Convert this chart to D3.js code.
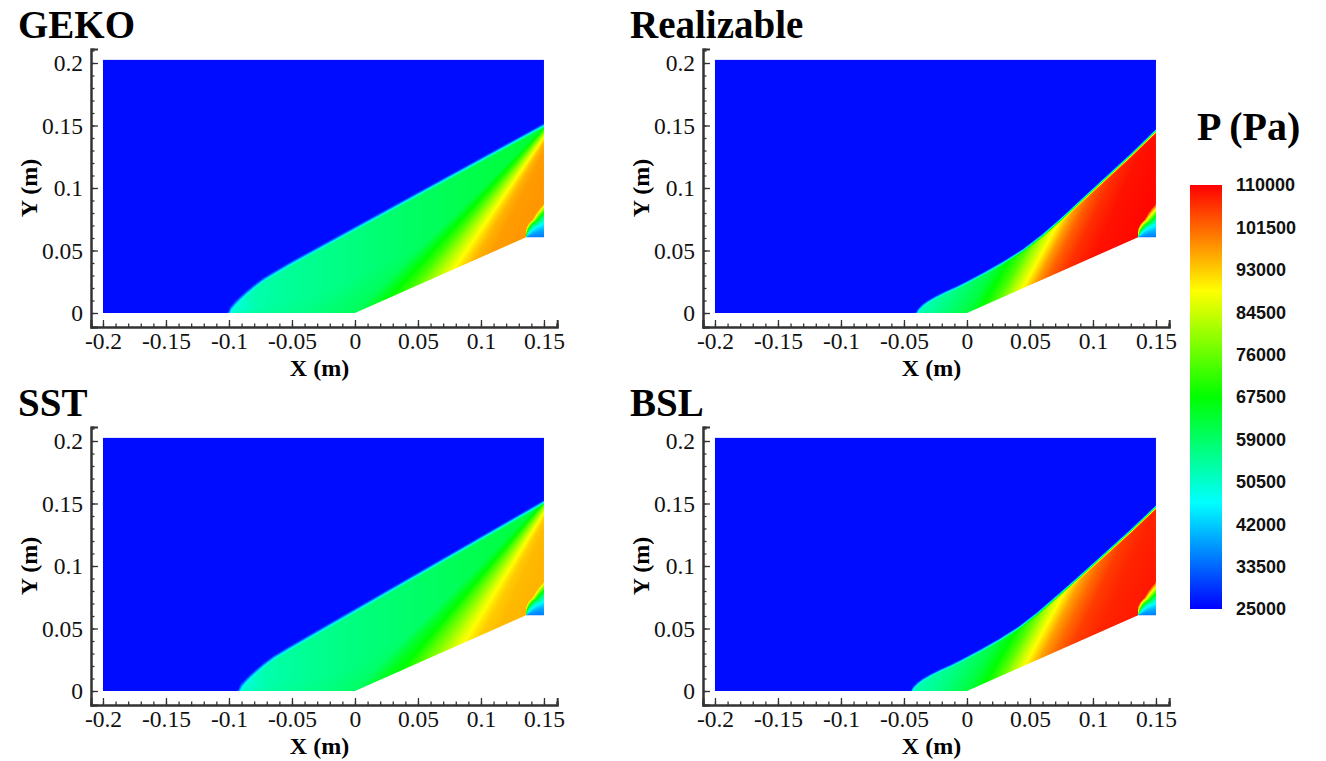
<!DOCTYPE html>
<html><head><meta charset="utf-8">
<script src="https://cdn.jsdelivr.net/npm/d3@7"></script>
<style>body{margin:0;background:#fff} svg{display:block}</style>
</head><body>
<svg id="chart" width="1326" height="761"></svg>
<script>
// ---------------- data ----------------
const modelNames = ["GEKO", "Realizable", "SST", "BSL"];
const xTicks = [-0.2, -0.15, -0.1, -0.05, 0, 0.05, 0.1, 0.15];
const yTicks = [0, 0.05, 0.1, 0.15, 0.2];
const xMinorTicks = d3.range(-20, 17).map(d => d / 100);
const yMinorTicks = d3.range(0, 22).map(d => d / 100);
const legendTicks = [110000, 101500, 93000, 84500, 76000, 67500, 59000, 50500, 42000, 33500, 25000];
const colorStops = ["#0000ff", "#00ffff", "#00ff00", "#ffff00", "#ff0000"];
const pRange = [25000, 110000];
const freestreamP = 26000;

// geometry of the ramp (m)
const wallX = [-0.2, 0, 0.1358, 0.15];
const wallY = [0, 0, 0.0606, 0.0606];
const domainTop = 0.2025;

// shock traces (m)
const gekoShockX = [-0.100, -0.098, -0.095, -0.091, -0.086, -0.080, -0.072, -0.062, -0.050, 0.150];
const gekoShockY = [0, 0.004, 0.0075, 0.0115, 0.016, 0.021, 0.027, 0.033, 0.040, 0.150];
const realShockX = [-0.040, -0.038, -0.035, -0.031, -0.025, -0.017, -0.008, 0, 0.015, 0.03, 0.045, 0.06, 0.075, 0.09, 0.11, 0.13, 0.15];
const realShockY = [0, 0.003, 0.006, 0.009, 0.0125, 0.0165, 0.0205, 0.0245, 0.0325, 0.041, 0.0505, 0.062, 0.075, 0.089, 0.1075, 0.126, 0.1455];
const sstShockX = [-0.092, -0.090, -0.087, -0.083, -0.078, -0.072, -0.064, -0.054, -0.042, 0.150];
const sstShockY = [0, 0.004, 0.0075, 0.0115, 0.016, 0.021, 0.027, 0.033, 0.040, 0.151];
const bslShockX = [-0.044, -0.042, -0.039, -0.035, -0.029, -0.021, -0.012, -0.004, 0.011, 0.026, 0.041, 0.056, 0.071, 0.087, 0.108, 0.129, 0.15];
const bslShockY = [0, 0.003, 0.006, 0.009, 0.0125, 0.0165, 0.0205, 0.0245, 0.0325, 0.041, 0.0505, 0.062, 0.075, 0.089, 0.108, 0.127, 0.147];

// pressure read along the wall (wall x, Pa), carried along compression waves
const gekoWallX = [-0.1, -0.08, -0.04, 0, 0.015, 0.028, 0.045, 0.06, 0.075, 0.085, 0.095, 0.11, 0.136];
const gekoWallP = [50000, 54000, 56500, 60000, 64000, 67500, 73000, 80000, 87000, 91500, 95000, 97000, 97500];
const realWallX = [-0.04, -0.02, 0, 0.012, 0.025, 0.035, 0.045, 0.055, 0.065, 0.08, 0.1, 0.136];
const realWallP = [52000, 57000, 62000, 67500, 74000, 82000, 89000, 97000, 102000, 106000, 108500, 109500];
const sstWallX = [-0.092, -0.07, -0.03, 0, 0.02, 0.035, 0.05, 0.065, 0.08, 0.09, 0.1, 0.115, 0.136];
const sstWallP = [50000, 54000, 56500, 59000, 64000, 67000, 73000, 79000, 86000, 90000, 93000, 94500, 95000];
const bslWallX = [-0.044, -0.02, 0, 0.015, 0.028, 0.038, 0.048, 0.058, 0.07, 0.085, 0.105, 0.136];
const bslWallP = [52000, 57000, 62000, 67500, 75000, 83000, 90000, 96500, 101000, 105000, 107000, 108000];

// level just behind the shock (x, Pa)
const gekoBehindX = [-0.1, -0.08, -0.05, 0, 0.05, 0.1, 0.15];
const gekoBehindP = [48000, 53000, 55000, 57000, 59500, 61500, 63500];
const realBehindX = [-0.04, 0, 0.15];
const realBehindP = [50000, 58000, 60000];
const sstBehindX = [-0.092, -0.072, -0.042, 0, 0.05, 0.1, 0.15];
const sstBehindP = [48000, 53000, 55000, 57000, 59000, 61000, 63000];
const bslBehindX = [-0.044, 0, 0.15];
const bslBehindP = [50000, 58000, 60000];

// convergence point of the compression waves (m)
const gekoFocus = [0.17, 0.17];
const realFocus = [0.30, 0.50];
const sstFocus = [0.17, 0.175];
const bslFocus = [0.30, 0.50];

// expansion fan at the ramp shoulder (angle in degrees, Pa)
const gekoFanAngle = [0, 20, 35, 48, 56, 62];
const gekoFanP = [35000, 39000, 46000, 60000, 78000, 96000];
const realFanAngle = [0, 20, 35, 45, 55, 62];
const realFanP = [35000, 40000, 48000, 62000, 85000, 105000];
const sstFanAngle = [0, 20, 35, 48, 56, 62];
const sstFanP = [35000, 39000, 46000, 60000, 77000, 93000];
const bslFanAngle = [0, 20, 35, 45, 55, 62];
const bslFanP = [35000, 40000, 48000, 62000, 85000, 104000];
// widening of the fan close to the shoulder (radius m, angle factor)
const fanRadius = [0, 0.006, 0.015, 0.03];
const fanSpread = [1.6, 1.45, 1.12, 1.0];

const shockWidths = [0.0022, 0.0016, 0.0022, 0.0016];

// ---------------- layout ----------------
const svg = d3.select("#chart");
const serif = "'Liberation Serif','Times New Roman',Times,serif";
const sans = "'Liberation Sans',Arial,Helvetica,sans-serif";

const models = [
  {name: modelNames[0], sx: gekoShockX, sy: gekoShockY, wx: gekoWallX, wp: gekoWallP, bx: gekoBehindX, bp: gekoBehindP, f: gekoFocus, fa: gekoFanAngle, fp: gekoFanP, w: shockWidths[0], ox: 0, oy: 0},
  {name: modelNames[1], sx: realShockX, sy: realShockY, wx: realWallX, wp: realWallP, bx: realBehindX, bp: realBehindP, f: realFocus, fa: realFanAngle, fp: realFanP, w: shockWidths[1], ox: 612, oy: 0},
  {name: modelNames[2], sx: sstShockX, sy: sstShockY, wx: sstWallX, wp: sstWallP, bx: sstBehindX, bp: sstBehindP, f: sstFocus, fa: sstFanAngle, fp: sstFanP, w: shockWidths[2], ox: 0, oy: 378},
  {name: modelNames[3], sx: bslShockX, sy: bslShockY, wx: bslWallX, wp: bslWallP, bx: bslBehindX, bp: bslBehindP, f: bslFocus, fa: bslFanAngle, fp: bslFanP, w: shockWidths[3], ox: 612, oy: 378}
];

const color = d3.scaleLinear()
  .domain(d3.range(colorStops.length).map(i => pRange[0] + i * (pRange[1] - pRange[0]) / (colorStops.length - 1)))
  .range(colorStops).clamp(true);

function interp(xs, ys, v) {
  if (v <= xs[0]) return ys[0];
  const n = xs.length;
  if (v >= xs[n - 1]) return ys[n - 1];
  let i = d3.bisectRight(xs, v) - 1;
  const t = (v - xs[i]) / (xs[i + 1] - xs[i]);
  return ys[i] + t * (ys[i + 1] - ys[i]);
}

const rampSlope = (wallY[2] - wallY[1]) / (wallX[2] - wallX[1]);

function postShock(m, x, y) {
  const fx = m.f[0], fy = m.f[1];
  const dx = x - fx, dy = Math.min(y - fy, -1e-6);
  let xi;
  const t0 = -y / dy;
  const q0 = x + t0 * dx;
  if (q0 <= 0) xi = q0;
  else {
    const t = (rampSlope * x - y) / (dy - rampSlope * dx);
    xi = x + t * dx;
  }
  let p = Math.max(interp(m.wx, m.wp, xi), interp(m.bx, m.bp, x));
  const xc = wallX[2], yc = wallY[2];
  if (x > xc - 0.02) {
    const r = Math.hypot(x - xc, y - yc);
    const th = Math.atan2(y - yc, x - xc) * 180 / Math.PI / interp(fanRadius, fanSpread, r);
    if (th >= m.fa[0] && th <= m.fa[m.fa.length - 1]) {
      p = Math.min(p, interp(m.fa, m.fp, th));
    }
  }
  return p;
}

function field(m, x, y) {
  const sx = m.sx, sy = m.sy;
  let d;
  if (x < sx[0]) d = Math.hypot(sx[0] - x, y - sy[0]);
  else {
    let i = d3.bisectRight(sx, x) - 1;
    if (i >= sx.length - 1) i = sx.length - 2;
    const t = (x - sx[i]) / (sx[i + 1] - sx[i]);
    const ys = sy[i] + t * (sy[i + 1] - sy[i]);
    const slope = (sy[i + 1] - sy[i]) / (sx[i + 1] - sx[i]);
    d = (y - ys) / Math.sqrt(1 + slope * slope);
  }
  const w = m.w;
  if (d > w) return freestreamP;
  const post = postShock(m, x, y);
  if (d < -w) return post;
  let s = (d + w) / (2 * w);
  s = s * s * (3 - 2 * s);
  return post + (freestreamP - post) * s;
}

models.forEach(m => {
  const x = d3.scaleLinear().domain([-0.2095, 0.1605]).range([91 + m.ox, 557.2 + m.ox]);
  const y = d3.scaleLinear().domain([-0.0112, 0.2112]).range([327 + m.oy, 49 + m.oy]);
  const g = svg.append("g");

  // field raster
  const px0 = Math.floor(x(wallX[0])), px1 = Math.ceil(x(wallX[wallX.length - 1]));
  const py0 = Math.floor(y(domainTop)), py1 = Math.ceil(y(0));
  const W = px1 - px0, H = py1 - py0;
  const canvas = document.createElement("canvas");
  canvas.width = W; canvas.height = H;
  const ctx = canvas.getContext("2d");
  const img = ctx.createImageData(W, H);
  const topPy = y(domainTop);
  for (let j = 0; j < H; j++) {
    for (let i = 0; i < W; i++) {
      const cx = px0 + i + 0.5, cy = py0 + j + 0.5;
      const xv = x.invert(cx), yv = y.invert(cy);
      const wv = interp(wallX, wallY, xv);
      const wallPy = y(wv);
      let a = Math.min(1, Math.max(0, wallPy - (py0 + j))) * Math.min(1, Math.max(0, (py0 + j + 1) - topPy));
      a *= Math.min(1, Math.max(0, Math.min(x(wallX[wallX.length - 1]) - (px0 + i), (px0 + i + 1) - x(wallX[0]))));
      if (a <= 0) continue;
      const c = d3.rgb(color(field(m, xv, Math.max(yv, wv))));
      const k = (j * W + i) * 4;
      img.data[k] = c.r; img.data[k + 1] = c.g; img.data[k + 2] = c.b; img.data[k + 3] = Math.round(a * 255);
    }
  }
  ctx.putImageData(img, 0, 0);
  g.append("image").attr("x", px0).attr("y", py0).attr("width", W).attr("height", H)
    .attr("href", canvas.toDataURL());

  // axes
  const xAxisY = y.range()[0], yAxisX = x.range()[0];
  g.append("g").attr("transform", `translate(0,${xAxisY})`)
    .call(d3.axisBottom(x).tickValues(xMinorTicks).tickSize(-3.5).tickFormat(""));
  g.append("g").attr("transform", `translate(0,${xAxisY})`)
    .call(d3.axisBottom(x).tickValues(xTicks).tickSize(-7).tickPadding(5).tickFormat(d => String(d)));
  g.append("g").attr("transform", `translate(${yAxisX},0)`)
    .call(d3.axisLeft(y).tickValues(yMinorTicks).tickSize(-3.5).tickFormat(""));
  g.append("g").attr("transform", `translate(${yAxisX},0)`)
    .call(d3.axisLeft(y).tickValues(yTicks).tickSize(-7).tickPadding(8).tickFormat(d => String(d)));
  g.selectAll(".domain").attr("stroke", "#333").attr("stroke-width", 2);
  g.selectAll(".tick line").attr("stroke", "#333").attr("stroke-width", 1.3);
  g.selectAll(".tick text").attr("font-family", serif).attr("font-size", 23.5)
    .style("font-family", serif).style("font-size", "23.5px").attr("fill", "#111");

  // labels
  g.append("text").attr("x", (x(-0.2) + x(0.15)) / 2 - 4).attr("y", 376 + m.oy)
    .attr("text-anchor", "middle").style("font-family", serif).attr("font-weight", "bold")
    .style("font-size", "24px").text("X (m)");
  g.append("text").attr("transform", `translate(${37 + m.ox},${(y(0) + y(0.2)) / 2}) rotate(-90)`)
    .attr("text-anchor", "middle").style("font-family", serif).attr("font-weight", "bold")
    .style("font-size", "24px").text("Y (m)");
  g.append("text").attr("x", 18 + m.ox).attr("y", 38 + m.oy)
    .style("font-family", serif).attr("font-weight", "bold").style("font-size", "39px").text(m.name);
});

// colour bar
const cb = svg.append("g");
const cy = d3.scaleLinear().domain(pRange).range([609, 185]);
const grad = svg.append("defs").append("linearGradient").attr("id", "pgrad")
  .attr("x1", 0).attr("y1", 1).attr("x2", 0).attr("y2", 0);
colorStops.forEach((c, i) => grad.append("stop").attr("offset", i / (colorStops.length - 1)).attr("stop-color", c));
cb.append("rect").attr("x", 1190).attr("y", cy(pRange[1])).attr("width", 32)
  .attr("height", cy(pRange[0]) - cy(pRange[1])).attr("fill", "url(#pgrad)");
cb.selectAll("text.lt").data(legendTicks).join("text").attr("class", "lt")
  .attr("x", 1236).attr("y", d => cy(d)).attr("dy", "0.35em")
  .style("font-family", sans).attr("font-weight", "bold").style("font-size", "18px").attr("fill", "#111")
  .text(d => d);
cb.append("text").attr("x", 1197).attr("y", 140).style("font-family", serif).attr("font-weight", "bold")
  .style("font-size", "40px").text("P (Pa)");
</script>
</body></html>
